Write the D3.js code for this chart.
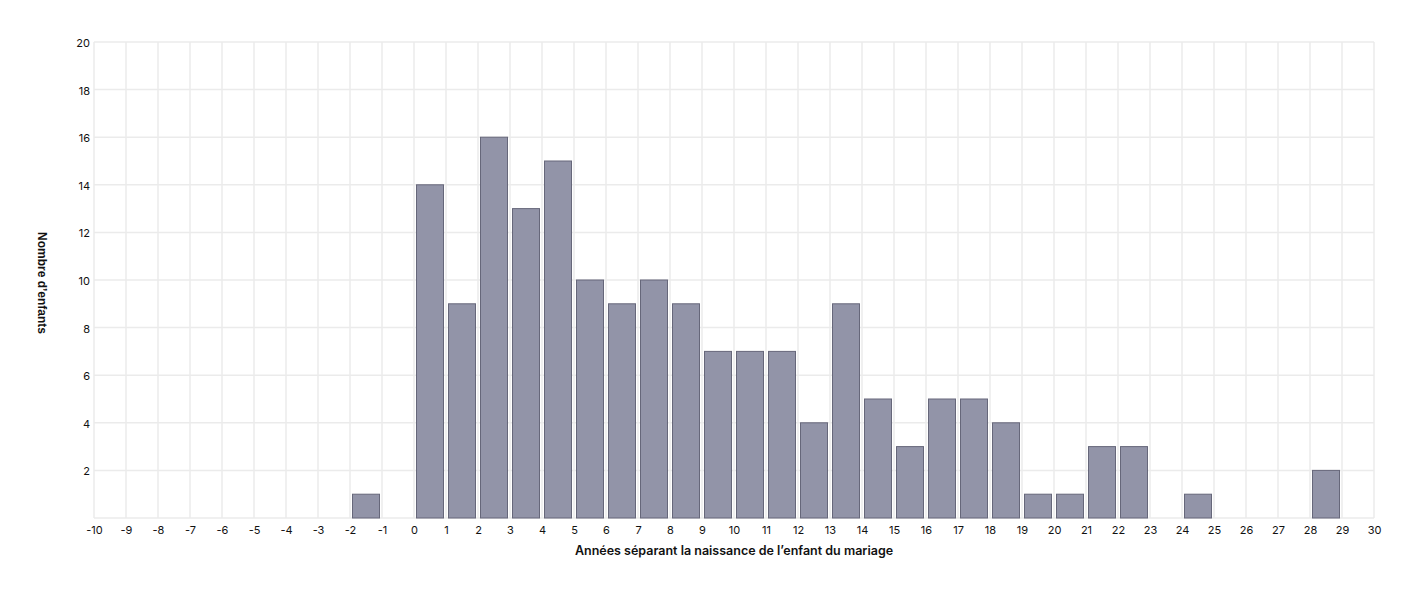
<!DOCTYPE html>
<html><head><meta charset="utf-8">
<script src="https://cdn.jsdelivr.net/npm/d3@7"></script>
<style>body{margin:0;background:#fff;}svg{display:block;font-family:Inter,"Noto Sans",sans-serif;}</style>
</head><body><svg id="c" width="1414" height="594"></svg>
<script>
const binStarts = [-2,-1,0,1,2,3,4,5,6,7,8,9,10,11,12,13,14,15,16,17,18,19,20,21,22,23,24,25,26,27,28];
const counts    = [ 1, 0,14,9,16,13,15,10,9,10,9,7,7,7,4,9,5,3,5,5,4,1,1,3,3,0,1,0,0,0,2];
const xTicks = d3.range(-10, 31, 1);
const yTicks = [2,4,6,8,10,12,14,16,18,20];
const xTitle = "Années séparant la naissance de l’enfant du mariage";
const yTitle = "Nombre d’enfants";

const svg = d3.select("#c");
const m = {l:94, r:40, t:42, b:76};
const W = 1414, H = 594;
const x = d3.scaleLinear().domain([-10,30]).range([m.l, W-m.r]);
const y = d3.scaleLinear().domain([0,20]).range([H-m.b, m.t]);

const grid = svg.append("g");
grid.selectAll("line.v").data(xTicks).join("line")
  .attr("x1", d=>x(d)).attr("x2", d=>x(d)).attr("y1", y(0)).attr("y2", y(20))
  .attr("stroke", "#ebebeb").attr("stroke-width", 1.5);
grid.selectAll("line.h").data([0].concat(yTicks)).join("line")
  .attr("y1", d=>y(d)).attr("y2", d=>y(d)).attr("x1", x(-10)).attr("x2", x(30))
  .attr("stroke", "#ebebeb").attr("stroke-width", 1.5);

const bars = binStarts.map((b,i)=>({b, c:counts[i]})).filter(d=>d.c>0);
svg.append("g").selectAll("rect").data(bars).join("rect")
  .attr("x", d=>x(d.b)+2.5).attr("width", d=>x(d.b+1)-x(d.b)-5)
  .attr("y", d=>y(d.c)).attr("height", d=>y(0)-y(d.c))
  .attr("fill", "#9294a8").attr("stroke", "#66677a").attr("stroke-width", 1);

const xa = svg.append("g").attr("transform", `translate(0,${y(0)})`)
  .call(d3.axisBottom(x).tickValues(xTicks).tickSize(0).tickPadding(8).tickFormat(d=>String(d)));
const ya = svg.append("g").attr("transform", `translate(${m.l},0)`)
  .call(d3.axisLeft(y).tickValues(yTicks).tickSize(0).tickPadding(4).tickFormat(d=>String(d)));
[xa,ya].forEach(a=>{a.select(".domain").remove(); a.selectAll("text").attr("font-size",11).attr("fill","#111").attr("font-family","Inter, sans-serif");});
ya.selectAll("text").attr("dy","0.4em");

svg.append("text").attr("x", (x(-10)+x(30))/2).attr("y", 555)
  .attr("text-anchor","middle").attr("font-size",12.5).attr("font-weight",600).attr("fill","#111")
  .text(xTitle);
svg.append("text").attr("transform", `translate(38,${(y(0)+y(20))/2 + 3}) rotate(90)`)
  .attr("text-anchor","middle").attr("font-size",12).attr("font-weight",700).attr("fill","#111")
  .attr("font-family","'Liberation Sans', Arial, sans-serif")
  .text(yTitle);
</script></body></html>
